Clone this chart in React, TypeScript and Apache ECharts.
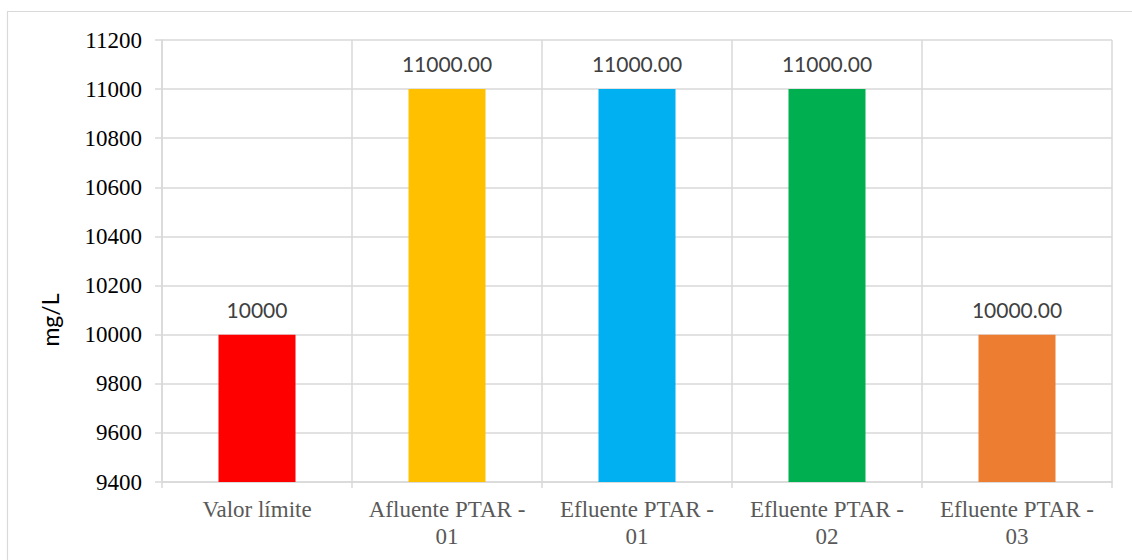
import React, { useEffect, useRef } from "react";
import * as echarts from "echarts";

// Sampling points and their measured concentrations (mg/L)
const categories = [
  "Valor límite",
  "Afluente PTAR -\n01",
  "Efluente PTAR -\n01",
  "Efluente PTAR -\n02",
  "Efluente PTAR -\n03",
];
const values = [10000, 11000, 11000, 11000, 10000];
const labelDecimals = [0, 2, 2, 2, 2];
const barColors = ["#FF0000", "#FFC000", "#00B0F0", "#00B050", "#ED7D31"];

const yMin = 9400;
const yMax = 11200;
const yStep = 200;
const yTitle = "mg/L";

export default function App() {
  const ref = useRef<HTMLDivElement>(null);

  useEffect(() => {
    if (!ref.current) return;
    const chart = echarts.init(ref.current, undefined, { renderer: "svg" });

    const gridColor = "#d9d9d9";
    const serif = "Liberation Serif";

    chart.setOption({
      animation: false,
      backgroundColor: "#ffffff",
      textStyle: { fontFamily: serif, fontSize: 23 },
      graphic: [
        {
          type: "rect",
          shape: { x: 7.5, y: 11.5, width: 1200, height: 600 },
          style: { fill: "none", stroke: "#d9d9d9", lineWidth: 1.2 },
          silent: true,
          z: -10,
        },
        {
          // vertical axis title
          type: "text",
          x: 50,
          y: 320,
          rotation: Math.PI / 2,
          style: {
            text: yTitle,
            fill: "#000000",
            font: "23px Lato",
            align: "center",
            verticalAlign: "middle",
          },
          silent: true,
        },
      ],
      grid: { left: 162, right: 20, top: 40, bottom: 78 },
      xAxis: {
        type: "category",
        data: categories,
        boundaryGap: true,
        axisLine: { show: true, lineStyle: { color: gridColor, width: 1.5 } },
        axisTick: {
          show: true,
          alignWithLabel: false,
          length: 6,
          lineStyle: { color: gridColor, width: 1.5 },
        },
        splitLine: { show: true, lineStyle: { color: gridColor, width: 1.5 } },
        axisLabel: {
          interval: 0,
          margin: 14,
          color: "#595959",
          fontFamily: serif,
          fontSize: 23,
          lineHeight: 27,
          align: "center",
        },
      },
      yAxis: {
        type: "value",
        min: yMin,
        max: yMax,
        interval: yStep,
        axisLine: { show: true, lineStyle: { color: gridColor, width: 1.5 } },
        axisTick: { show: true, length: 7, lineStyle: { color: gridColor, width: 1.5 } },
        splitLine: { show: true, lineStyle: { color: gridColor, width: 1.5 } },
        axisLabel: {
          show: true,
          margin: 20,
          color: "#000000",
          fontFamily: serif,
          fontSize: 23,
          lineHeight: 27,
          textStyle: { fontFamily: serif, fontSize: 23, color: "#000000" },
          formatter: (v: number) => "{t|" + String(v) + "}",
          rich: {
            t: { fontFamily: serif, fontSize: 23, color: "#000000", lineHeight: 27 },
          },
        },
      },
      series: [
        {
          type: "bar",
          barWidth: 77,
          data: values.map((v, i) => ({
            value: v,
            itemStyle: { color: barColors[i] },
          })),
          label: {
            show: true,
            position: "top",
            distance: 15,
            color: "#404040",
            fontFamily: "Lato",
            fontSize: 21,
            formatter: (p: any) => Number(p.value).toFixed(labelDecimals[p.dataIndex]),
          },
        },
      ],
    });

    return () => chart.dispose();
  }, []);

  return (
    <div
      ref={ref}
      style={{ position: "absolute", left: 0, top: 0, width: 1132, height: 560 }}
    />
  );
}
